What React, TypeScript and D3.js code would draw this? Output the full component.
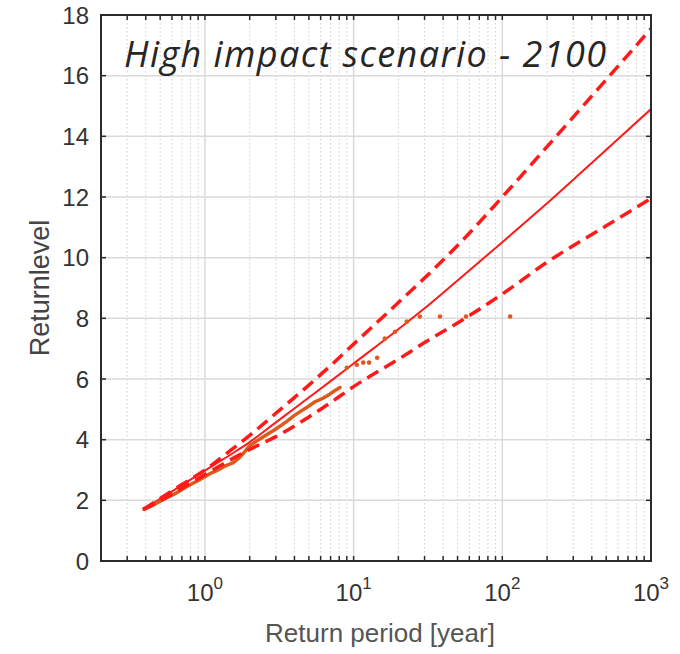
import React from "react";
import * as d3 from "d3";

// Fitted return-level curve (centre estimate and confidence bounds)
const returnPeriods = [0.384, 0.5, 0.7, 1, 1.5, 2, 3, 5, 7, 10, 20, 30, 50, 100, 200, 500, 1000];
const centralLevel = [1.7, 2.05, 2.5, 2.98, 3.52, 3.92, 4.57, 5.39, 5.93, 6.51, 7.64, 8.33, 9.25, 10.51, 11.79, 13.56, 14.9];
const upperLevel = [1.7, 2.06, 2.52, 3.0, 3.66, 4.14, 4.87, 5.8, 6.44, 7.15, 8.52, 9.33, 10.4, 12.0, 13.66, 15.87, 17.55];
const lowerLevel = [1.7, 1.98, 2.4, 2.85, 3.35, 3.68, 4.1, 4.75, 5.22, 5.75, 6.65, 7.2, 7.85, 8.8, 9.85, 11.05, 11.95];

// Empirical (observed) return levels: dense part and sparse extreme points
const empiricalDenseT = [0.39, 0.45, 0.5, 0.56, 0.63, 0.7, 0.8, 0.92, 1.0, 1.1, 1.2, 1.35, 1.55, 1.7, 1.85, 2.0, 2.3, 2.6, 3.0, 3.5, 4.0, 4.8, 5.5, 6.3, 6.9, 7.5, 8.1];
const empiricalDenseLevel = [1.7, 1.85, 1.97, 2.1, 2.22, 2.36, 2.52, 2.68, 2.78, 2.9, 2.98, 3.12, 3.24, 3.4, 3.6, 3.8, 4.0, 4.16, 4.35, 4.58, 4.8, 5.05, 5.25, 5.38, 5.5, 5.62, 5.72];
const empiricalSparseT = [9.0, 10.5, 11.6, 12.7, 14.4, 16.2, 19.0, 22.8, 27.9, 38.1, 57, 113];
const empiricalSparseLevel = [6.37, 6.47, 6.54, 6.54, 6.7, 7.33, 7.56, 7.89, 8.06, 8.06, 8.06, 8.06];

// Axes
const xMajorTicks = [1, 10, 100, 1000];
const xMajorExponents = ["0", "1", "2", "3"];
const yTicks = [0, 2, 4, 6, 8, 10, 12, 14, 16, 18];
const xDomain = [0.2, 1000];
const yDomain = [0, 18];

const titleText = "High impact scenario - 2100";
const xLabel = "Return period [year]";
const yLabel = "Returnlevel";

const W = 680;
const H = 654;
const plot = { left: 101, right: 651, top: 15, bottom: 561 };

export default function App() {
  const x = d3.scaleLog().domain(xDomain).range([plot.left, plot.right]);
  const y = d3.scaleLinear().domain(yDomain).range([plot.bottom, plot.top]);

  const minor: number[] = [];
  for (let e = -1; e <= 2; e++) {
    for (let m = 2; m <= 9; m++) {
      const v = m * Math.pow(10, e);
      if (v >= xDomain[0] && v <= xDomain[1]) minor.push(v);
    }
  }

  const line = d3
    .line<[number, number]>()
    .x((d) => x(d[0]))
    .y((d) => y(d[1]))
    .curve(d3.curveMonotoneX);

  const centralPts = returnPeriods.map((t, i) => [t, centralLevel[i]] as [number, number]);
  const upperPts = returnPeriods.map((t, i) => [t, upperLevel[i]] as [number, number]);
  const lowerPts = returnPeriods.map((t, i) => [t, lowerLevel[i]] as [number, number]);
  const densePts = empiricalDenseT.map((t, i) => [t, empiricalDenseLevel[i]] as [number, number]);
  const denseLine = d3
    .line<[number, number]>()
    .x((d) => x(d[0]))
    .y((d) => y(d[1]));

  const axisColor = "#2b2b2b";
  const tickLen = 5;
  const red = "#ff1a1a";
  const orange = "#dc5a1c";

  return (
    <svg
      width={W}
      height={H}
      style={{ position: "absolute", left: 0, top: 0, background: "#fff" }}
      fontFamily="'Liberation Sans', Arial, sans-serif"
    >
      <defs>
        <clipPath id="plotClip">
          <rect x={plot.left} y={plot.top} width={plot.right - plot.left} height={plot.bottom - plot.top} />
        </clipPath>
      </defs>
      <rect x={0} y={0} width={W} height={H} fill="#fff" />
      {minor.map((v) => (
        <line
          key={"mg" + v}
          x1={x(v)}
          x2={x(v)}
          y1={plot.top}
          y2={plot.bottom}
          stroke="#cfcfcf"
          strokeWidth={1}
          strokeDasharray="1.5 2.5"
        />
      ))}
      {xMajorTicks.map((v) => (
        <line key={"vg" + v} x1={x(v)} x2={x(v)} y1={plot.top} y2={plot.bottom} stroke="#dadada" strokeWidth={1.5} />
      ))}
      {yTicks.map((v) => (
        <line key={"hg" + v} x1={plot.left} x2={plot.right} y1={y(v)} y2={y(v)} stroke="#dadada" strokeWidth={1.5} />
      ))}

      <text
        x={124}
        y={67}
        fontFamily="'Open Sans', 'Noto Sans', sans-serif"
        fontStyle="italic"
        fontSize={36}
        fill="#262626"
        textLength={482}
        lengthAdjust="spacing"
      >
        {titleText}
      </text>

      <g clipPath="url(#plotClip)">
        <path d={line(centralPts) || ""} fill="none" stroke={red} strokeWidth={2} />
        <path d={denseLine(densePts) || ""} fill="none" stroke={orange} strokeWidth={3.5} strokeLinejoin="round" strokeLinecap="round" />
        {empiricalSparseT.map((t, i) => (
          <circle key={"sp" + i} cx={x(t)} cy={y(empiricalSparseLevel[i])} r={2.3} fill={orange} />
        ))}
        <path d={line(upperPts) || ""} fill="none" stroke={red} strokeWidth={3.5} strokeDasharray="13 7" />
        <path d={line(lowerPts) || ""} fill="none" stroke={red} strokeWidth={3.5} strokeDasharray="13 7" />
      </g>

      <rect
        x={plot.left}
        y={plot.top}
        width={plot.right - plot.left}
        height={plot.bottom - plot.top}
        fill="none"
        stroke={axisColor}
        strokeWidth={2}
      />
      {yTicks.map((v) => (
        <g key={"yt" + v}>
          <line x1={plot.left} x2={plot.left + tickLen} y1={y(v)} y2={y(v)} stroke={axisColor} strokeWidth={1.5} />
          <line x1={plot.right} x2={plot.right - tickLen} y1={y(v)} y2={y(v)} stroke={axisColor} strokeWidth={1.5} />
          <text x={89} y={y(v)} dy="0.36em" textAnchor="end" fontSize={24} fill="#333">
            {v}
          </text>
        </g>
      ))}
      {[...minor, ...xMajorTicks].map((v) => (
        <g key={"xt" + v}>
          <line x1={x(v)} x2={x(v)} y1={plot.bottom} y2={plot.bottom - tickLen} stroke={axisColor} strokeWidth={1.5} />
          <line x1={x(v)} x2={x(v)} y1={plot.top} y2={plot.top + tickLen} stroke={axisColor} strokeWidth={1.5} />
        </g>
      ))}
      {xMajorTicks.map((v, i) => (
        <g key={"xl" + v} transform={`translate(${x(v)},601)`}>
          <text textAnchor="middle" fontSize={24} fill="#333">
            <tspan>10</tspan>
            <tspan dy={-12} fontSize={17}>
              {xMajorExponents[i]}
            </tspan>
          </text>
        </g>
      ))}

      <text x={(plot.left + plot.right) / 2 + 4} y={642} textAnchor="middle" fontSize={26} fill="#555">
        {xLabel}
      </text>
      <text
        transform={`translate(49,${(plot.top + plot.bottom) / 2}) rotate(-90)`}
        textAnchor="middle"
        fontSize={27}
        fill="#444"
      >
        {yLabel}
      </text>
    </svg>
  );
}
